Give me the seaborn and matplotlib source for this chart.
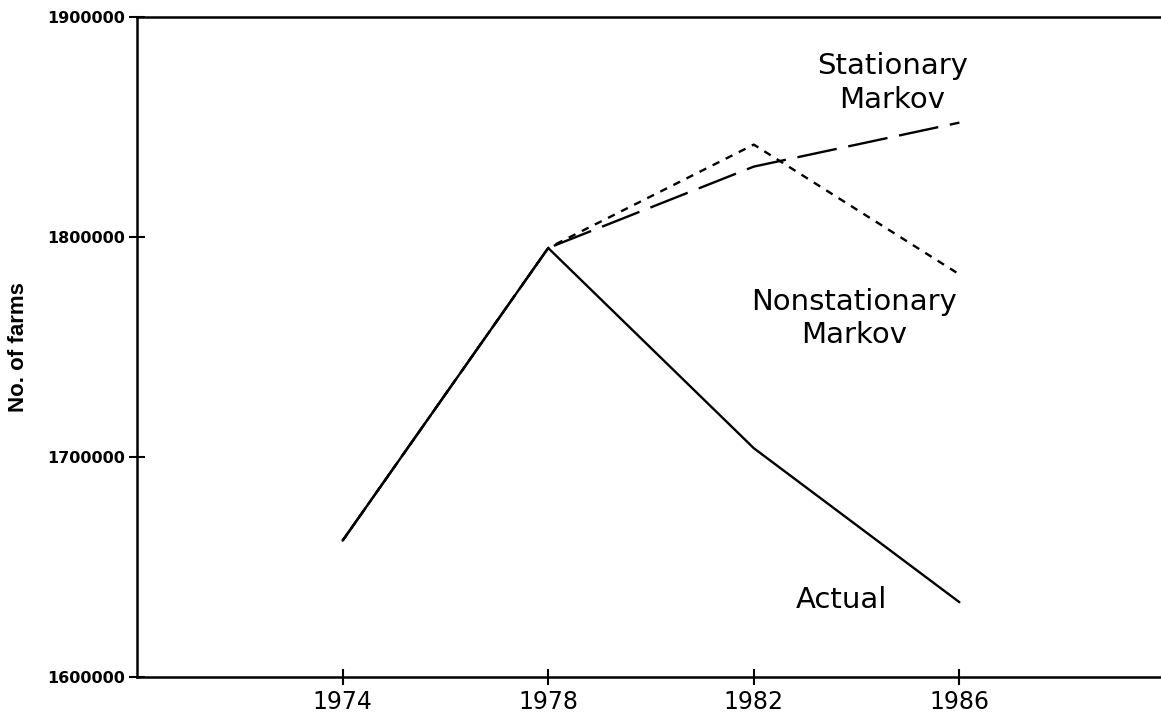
import matplotlib
matplotlib.use("Agg")
import matplotlib.pyplot as plt
import seaborn as sns
import pandas as pd

years = [1974, 1978, 1982, 1986]
actual = [1662000, 1795000, 1704000, 1634000]
stationary = [1662000, 1795000, 1832000, 1852000]
nonstationary = [1662000, 1795000, 1842000, 1783000]
xtick_labels = ["1974", "1978", "1982", "1986"]
yticks = [1600000, 1700000, 1800000, 1900000]

df = pd.concat([
    pd.DataFrame({"year": years, "farms": actual, "series": "Actual"}),
    pd.DataFrame({"year": years, "farms": stationary, "series": "Stationary Markov"}),
    pd.DataFrame({"year": years, "farms": nonstationary, "series": "Nonstationary Markov"}),
])

sns.set_theme(style="white")
plt.rcParams["font.family"] = ["DejaVu Sans"]
plt.rcParams["text.color"] = "black"

fig = plt.figure(figsize=(11.61, 7.15), dpi=100)
ax = fig.add_axes([137/1161, 38/715, (1165-137)/1161, 660/715])

sns.lineplot(data=df, x="year", y="farms", style="series", color="black",
             linewidth=1.7, legend=False, ax=ax,
             dashes={"Actual": "", "Stationary Markov": (17, 5),
                     "Nonstationary Markov": (3.2, 3.0)})

ax.set_xlim(1970, 1990)
ax.set_ylim(1600000, 1900000)
ax.set_xticks(years)
ax.set_xticklabels(xtick_labels, fontsize=17)
ax.set_yticks(yticks)
ax.set_yticklabels([str(v) for v in yticks], fontsize=11.5, fontweight="bold")
ax.tick_params(axis="both", direction="inout", length=11, width=1.5,
               colors="black", bottom=True, left=True, top=False, right=False)
ax.tick_params(axis="x", pad=4)
ax.tick_params(axis="y", pad=3)

for s in ["left", "bottom", "top"]:
    ax.spines[s].set_visible(True)
    ax.spines[s].set_color("black")
    ax.spines[s].set_linewidth(1.8)
ax.spines["right"].set_visible(False)

ax.set_xlabel("")
ax.set_ylabel("No. of farms", fontsize=16, fontweight="bold", color="black",
              family=["Liberation Sans", "DejaVu Sans"])
ax.yaxis.set_label_coords(-0.105, 0.5)

ax.text(1984.7, 1870000, "Stationary\nMarkov", ha="center", va="center",
        fontsize=21, linespacing=1.25, color="black")
ax.text(1983.95, 1763000, "Nonstationary\nMarkov", ha="center", va="center",
        fontsize=21, linespacing=1.25, color="black")
ax.text(1983.7, 1635000, "Actual", ha="center", va="center", fontsize=21,
        color="black")

fig.savefig("out.png", dpi=100)
